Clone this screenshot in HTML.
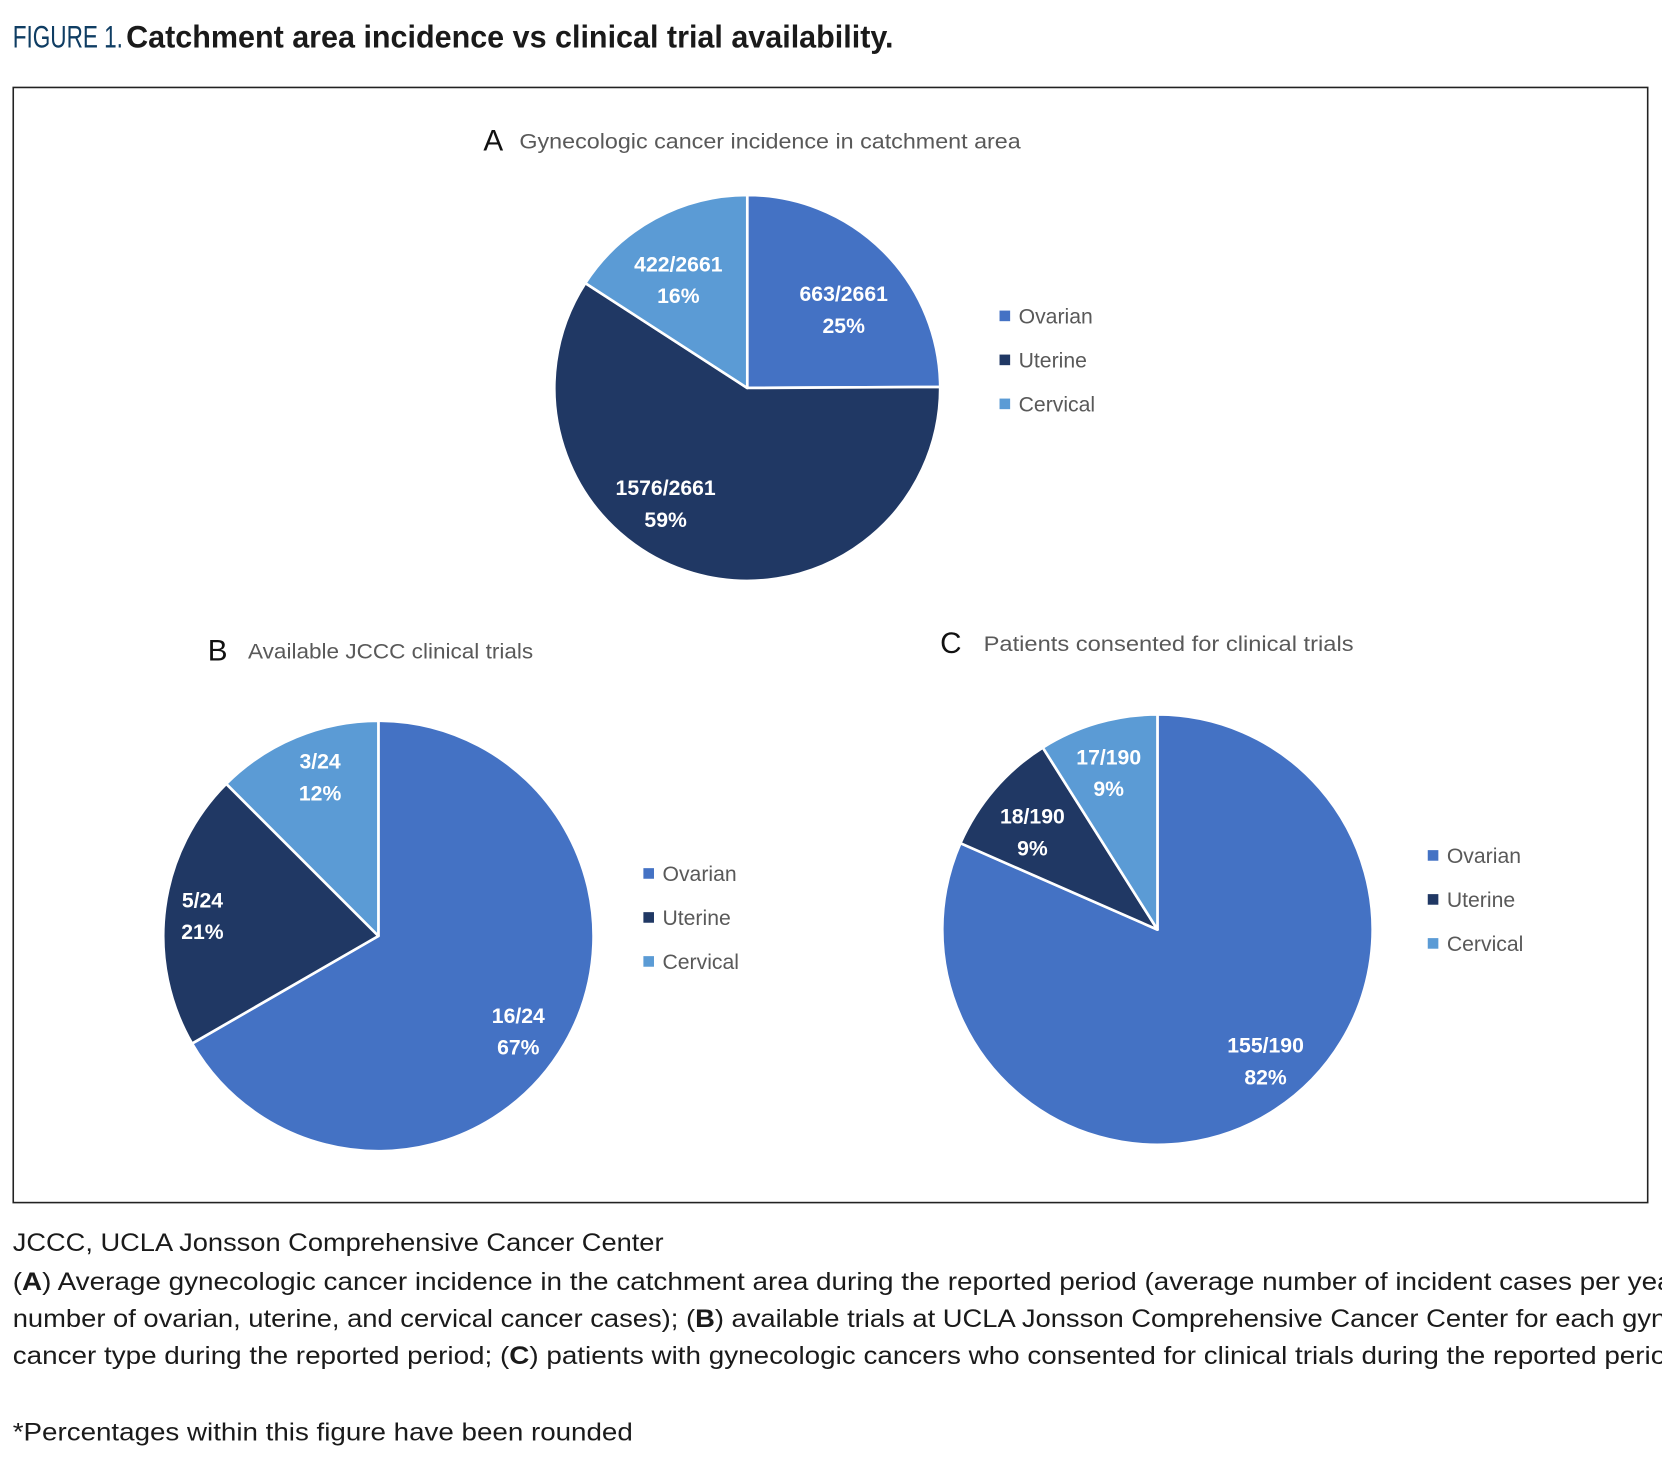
<!DOCTYPE html>
<html><head><meta charset="utf-8"><style>
html,body{margin:0;padding:0;background:#fff;}
svg{display:block;}
text{font-family:"Liberation Sans",sans-serif;}
</style></head><body>
<svg id="fig" width="1662" height="1466" viewBox="0 0 1568 1383" preserveAspectRatio="none" xmlns="http://www.w3.org/2000/svg">
<rect x="0" y="0" width="1568" height="1383" fill="#fff"/>
<text x="12" y="45" font-size="30" fill="#0f3d63" textLength="104" lengthAdjust="spacingAndGlyphs">FIGURE 1.</text>
<text x="119" y="45" font-size="30" font-weight="bold" fill="#1a1a1a" textLength="724" lengthAdjust="spacingAndGlyphs">Catchment area incidence vs clinical trial availability.</text>
<rect x="12.5" y="82.5" width="1542" height="1052" fill="#fff" stroke="#222" stroke-width="1.5"/>
<g id="charts"></g>
<g font-size="24" fill="#1a1a1a">
<text x="12" y="1180" textLength="614" lengthAdjust="spacingAndGlyphs">JCCC, UCLA Jonsson Comprehensive Cancer Center</text>
<text x="12" y="1217" textLength="1566" lengthAdjust="spacingAndGlyphs">(<tspan font-weight="bold">A</tspan>) Average gynecologic cancer incidence in the catchment area during the reported period (average number of incident cases per yea</text>
<text x="12" y="1252" textLength="1560" lengthAdjust="spacingAndGlyphs">number of ovarian, uterine, and cervical cancer cases); (<tspan font-weight="bold">B</tspan>) available trials at UCLA Jonsson Comprehensive Cancer Center for each gyn</text>
<text x="12" y="1287" textLength="1560" lengthAdjust="spacingAndGlyphs">cancer type during the reported period; (<tspan font-weight="bold">C</tspan>) patients with gynecologic cancers who consented for clinical trials during the reported perio</text>
<text x="12" y="1359" textLength="585" lengthAdjust="spacingAndGlyphs">*Percentages within this figure have been rounded</text>
</g>
</svg>
<script>
const categories = ["Ovarian", "Uterine", "Cervical"];
const colors = ["#4472C4", "#203864", "#5B9BD5"];
const valuesA = [663, 1576, 422];
const valuesB = [16, 5, 3];
const valuesC = [155, 18, 17];
const pctA = ["25%", "59%", "16%"];
const pctB = ["67%", "21%", "12%"];
const pctC = ["82%", "9%", "9%"];
const titlesLetters = ["A", "B", "C"];
const titlesText = ["Gynecologic cancer incidence in catchment area", "Available JCCC clinical trials", "Patients consented for clinical trials"];

const NS = "http://www.w3.org/2000/svg";
const root = document.getElementById('charts');
function mk(tag, attrs, parent){const e=document.createElementNS(NS,tag);for(const k in attrs)e.setAttribute(k,attrs[k]);(parent||root).appendChild(e);return e;}

const layouts = [
 {cx:705, cy:366, r:182, tx:456, ty:142, tw:473, lx:948, ly:298, lab:[[796,277],[628,460],[640,249]], data:valuesA, pct:pctA, name:'a'},
 {cx:357, cy:883, r:203, tx:196, ty:623, tw:269, lx:612, ly:824, lab:[[489,958],[191,849],[302,718]], data:valuesB, pct:pctB, name:'b'},
 {cx:1092, cy:877, r:203, tx:887, ty:616, tw:349, lx:1352, ly:807, lab:[[1194,986],[974,770],[1046,714]], data:valuesC, pct:pctC, name:'c'}
];

layouts.forEach((L, ci) => {
  const g = mk('g', {});
  
  
  const t1 = mk('text', {x:L.tx, y:L.ty, 'font-size':28, fill:'#111'}, g);
  t1.textContent = titlesLetters[ci];
  
  
  const t2 = mk('text', {x:L.tx + (ci===0?34:ci===1?38:41), y:L.ty-2, 'font-size':20, fill:'#595959', textLength:L.tw, lengthAdjust:'spacingAndGlyphs'}, g);
  t2.textContent = titlesText[ci];
  
  
  const total = L.data.reduce((a,b)=>a+b,0);
  let acc = 0;
  L.data.forEach((v, i) => {
    const a0 = acc/total*2*Math.PI, a1 = (acc+v)/total*2*Math.PI; acc += v;
    const x0 = L.cx + L.r*Math.sin(a0), y0 = L.cy - L.r*Math.cos(a0);
    const x1 = L.cx + L.r*Math.sin(a1), y1 = L.cy - L.r*Math.cos(a1);
    const large = (a1-a0) > Math.PI ? 1 : 0;
    const p = mk('path', {d:`M${L.cx},${L.cy} L${x0},${y0} A${L.r},${L.r} 0 ${large} 1 ${x1},${y1} Z`, fill:colors[i], stroke:'#fff', 'stroke-width':2.5, 'stroke-linejoin':'round'}, g);
    
    
  });
  L.data.forEach((v, i) => {
    const [lx, ly] = L.lab[i];
    const t = mk('text', {x:lx, y:ly+7, 'font-size':20, 'font-weight':'bold', fill:'#fff', 'text-anchor':'middle'}, g);
    t.textContent = v + '/' + total;
    
    
    const t3 = mk('text', {x:lx, y:ly+37, 'font-size':20, 'font-weight':'bold', fill:'#fff', 'text-anchor':'middle'}, g);
    t3.textContent = L.pct[i];
    
    
  });
  categories.forEach((c, i) => {
    const y = L.ly + i*41.5;
    const le = mk('g', {}, g);
    
    
    mk('rect', {x:L.lx-5, y:y-5, width:10, height:10, fill:colors[i]}, le);
    const lt = mk('text', {x:L.lx+13, y:y+7, 'font-size':20, fill:'#595959'}, le);
    lt.textContent = c;
  });
});
</script>
</body></html>
